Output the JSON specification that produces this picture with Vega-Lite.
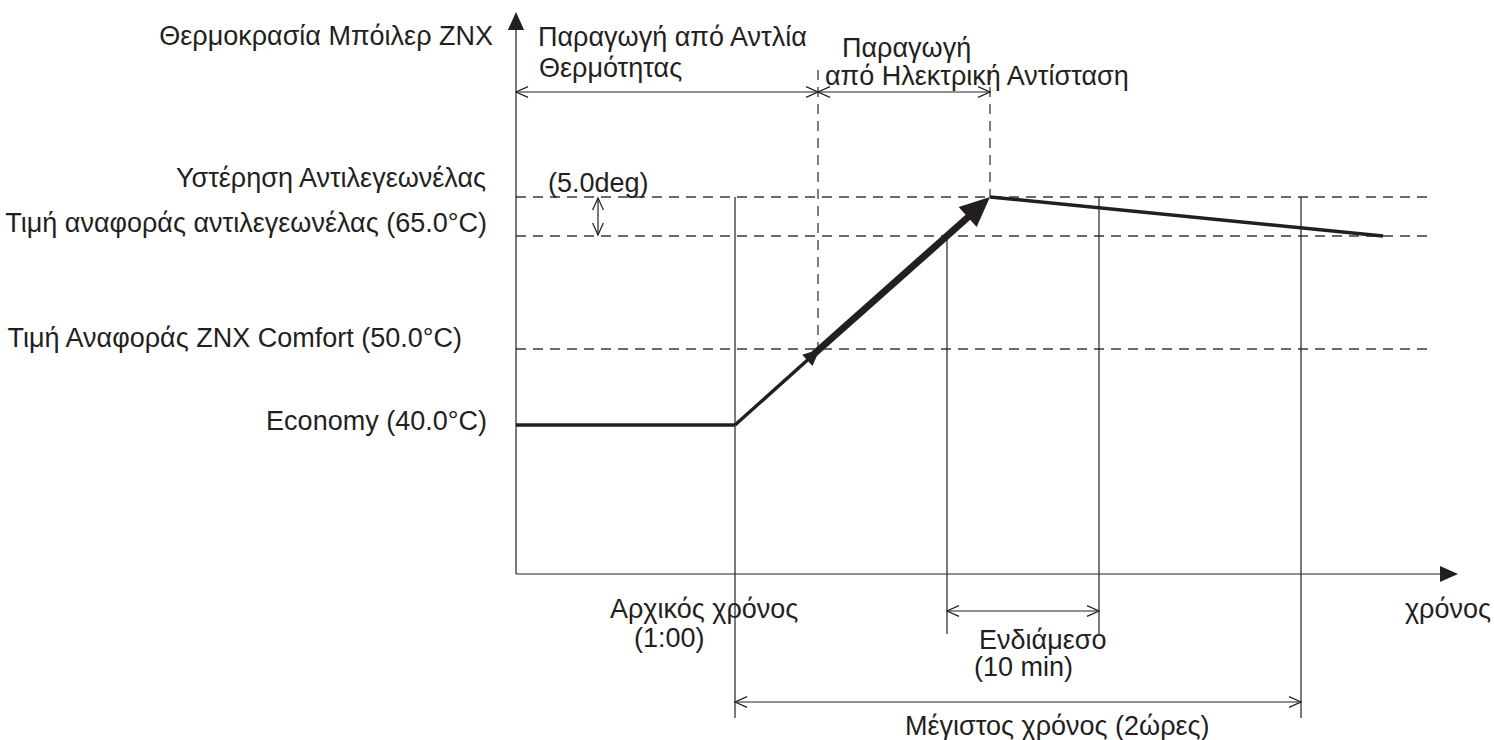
{
  "$schema": "https://vega.github.io/schema/vega-lite/v6.json",
  "width": 1494,
  "height": 740,
  "padding": 0,
  "autosize": {"type": "none"},
  "background": "white",
  "config": {"view": {"stroke": null}},
  "datasets": {
    "guides": [
      {"x": 516, "y": 197, "x2": 1430, "y2": 197},
      {"x": 516, "y": 236, "x2": 1430, "y2": 236},
      {"x": 516, "y": 349, "x2": 1430, "y2": 349},
      {"x": 818, "y": 70, "x2": 818, "y2": 349},
      {"x": 990, "y": 70, "x2": 990, "y2": 197}
    ],
    "thin": [
      {"x": 516, "y": 22, "x2": 516, "y2": 574},
      {"x": 516, "y": 574, "x2": 1445, "y2": 574},
      {"x": 735, "y": 197, "x2": 735, "y2": 718},
      {"x": 947, "y": 236, "x2": 947, "y2": 634},
      {"x": 1099, "y": 197, "x2": 1099, "y2": 634},
      {"x": 1301, "y": 197, "x2": 1301, "y2": 718},
      {"x": 516, "y": 92, "x2": 990, "y2": 92},
      {"x": 598, "y": 198, "x2": 598, "y2": 235},
      {"x": 947, "y": 611, "x2": 1099, "y2": 611},
      {"x": 735, "y": 702, "x2": 1301, "y2": 702}
    ],
    "profile": [
      {"x": 516, "y": 425, "x2": 735, "y2": 425},
      {"x": 735, "y": 425, "x2": 812, "y2": 356},
      {"x": 990, "y": 197, "x2": 1383, "y2": 236}
    ],
    "boost": [
      {"x": 814, "y": 354, "x2": 975, "y2": 211}
    ],
    "ticks": [
      {"x": 516, "y": 92, "dir": "left"},
      {"x": 818, "y": 92, "dir": "right"},
      {"x": 818, "y": 92, "dir": "left"},
      {"x": 990, "y": 92, "dir": "right"},
      {"x": 598, "y": 198, "dir": "up"},
      {"x": 598, "y": 235, "dir": "down"},
      {"x": 947, "y": 611, "dir": "left"},
      {"x": 1099, "y": 611, "dir": "right"},
      {"x": 735, "y": 702, "dir": "left"},
      {"x": 1301, "y": 702, "dir": "right"}
    ],
    "axisHeads": [
      {"x": 516, "y": 12, "dir": "up"},
      {"x": 1458, "y": 574, "dir": "right"}
    ],
    "rampHeads": [
      {"x": 820, "y": 349, "phase": "heat pump"},
      {"x": 990, "y": 197, "phase": "electric"}
    ],
    "labelsRight": [
      {"x": 493, "y": 45, "text": "Θερμοκρασία Μπόιλερ ZNX"},
      {"x": 486, "y": 187, "text": "Υστέρηση Αντιλεγεωνέλας"},
      {"x": 487, "y": 232, "text": "Τιμή αναφοράς αντιλεγεωνέλας (65.0°C)"},
      {"x": 462, "y": 347, "text": "Τιμή Αναφοράς ZNX Comfort (50.0°C)"},
      {"x": 487, "y": 430, "text": "Economy (40.0°C)"},
      {"x": 1491, "y": 618, "text": "χρόνος"}
    ],
    "labelsLeft": [
      {"x": 538, "y": 46, "text": "Παραγωγή από Αντλία"},
      {"x": 539, "y": 77, "text": "Θερμότητας"},
      {"x": 842, "y": 57, "text": "Παραγωγή"},
      {"x": 825, "y": 85, "text": "από Ηλεκτρική Αντίσταση"},
      {"x": 548, "y": 192, "text": "(5.0deg)"},
      {"x": 610, "y": 618, "text": "Αρχικός χρόνος"},
      {"x": 634, "y": 647, "text": "(1:00)"},
      {"x": 979, "y": 649, "text": "Ενδιάμεσο"},
      {"x": 974, "y": 676, "text": "(10 min)"},
      {"x": 905, "y": 735, "text": "Μέγιστος χρόνος (2ώρες)"}
    ]
  },
  "layer": [
    {
      "data": {"name": "guides"},
      "mark": {"type": "rule", "stroke": "#3a3a3a", "strokeWidth": 1.3, "strokeDash": [10, 7]},
      "encoding": {
        "x": {"field": "x", "type": "quantitative", "scale": {"domain": [0, 1494], "nice": false, "zero": false}, "axis": null},
        "y": {"field": "y", "type": "quantitative", "scale": {"domain": [0, 740], "nice": false, "zero": false, "reverse": true}, "axis": null},
        "x2": {"field": "x2"},
        "y2": {"field": "y2"}
      }
    },
    {
      "data": {"name": "thin"},
      "mark": {"type": "rule", "stroke": "#231f20", "strokeWidth": 1.2},
      "encoding": {
        "x": {"field": "x", "type": "quantitative", "axis": null},
        "y": {"field": "y", "type": "quantitative", "axis": null},
        "x2": {"field": "x2"},
        "y2": {"field": "y2"}
      }
    },
    {
      "data": {"name": "profile"},
      "mark": {"type": "rule", "stroke": "#231f20", "strokeWidth": 3.5},
      "encoding": {
        "x": {"field": "x", "type": "quantitative", "axis": null},
        "y": {"field": "y", "type": "quantitative", "axis": null},
        "x2": {"field": "x2"},
        "y2": {"field": "y2"}
      }
    },
    {
      "data": {"name": "boost"},
      "mark": {"type": "rule", "stroke": "#231f20", "strokeWidth": 7},
      "encoding": {
        "x": {"field": "x", "type": "quantitative", "axis": null},
        "y": {"field": "y", "type": "quantitative", "axis": null},
        "x2": {"field": "x2"},
        "y2": {"field": "y2"}
      }
    },
    {
      "data": {"name": "ticks"},
      "mark": {"type": "point", "filled": false, "stroke": "#231f20", "strokeWidth": 1.2, "size": 576, "opacity": 1},
      "encoding": {
        "x": {"field": "x", "type": "quantitative", "axis": null},
        "y": {"field": "y", "type": "quantitative", "axis": null},
        "shape": {
          "field": "dir", "type": "nominal", "legend": null,
          "scale": {
            "domain": ["left", "right", "up", "down"],
            "range": ["M1,-0.45L0,0L1,0.45", "M-1,-0.45L0,0L-1,0.45", "M-0.45,1L0,0L0.45,1", "M-0.45,-1L0,0L0.45,-1"]
          }
        }
      }
    },
    {
      "data": {"name": "axisHeads"},
      "mark": {"type": "point", "filled": true, "fill": "#231f20", "strokeWidth": 0, "size": 1296, "opacity": 1},
      "encoding": {
        "x": {"field": "x", "type": "quantitative", "axis": null},
        "y": {"field": "y", "type": "quantitative", "axis": null},
        "shape": {
          "field": "dir", "type": "nominal", "legend": null,
          "scale": {
            "domain": ["up", "right"],
            "range": ["M0,0L-0.3,1L0.3,1Z", "M0,0L-1,-0.38L-1,0.38Z"]
          }
        }
      }
    },
    {
      "data": {"name": "rampHeads"},
      "mark": {"type": "point", "filled": true, "fill": "#231f20", "strokeWidth": 0, "opacity": 1, "shape": "M0,0L-0.445,1.002L-1.045,0.332Z"},
      "encoding": {
        "x": {"field": "x", "type": "quantitative", "axis": null},
        "y": {"field": "y", "type": "quantitative", "axis": null},
        "size": {
          "field": "phase", "type": "nominal", "legend": null,
          "scale": {"domain": ["heat pump", "electric"], "range": [1156, 3600]}
        }
      }
    },
    {
      "data": {"name": "labelsRight"},
      "mark": {"type": "text", "align": "right", "baseline": "alphabetic", "font": "Liberation Sans", "fontSize": 27, "fill": "#231f20"},
      "encoding": {
        "x": {"field": "x", "type": "quantitative", "axis": null},
        "y": {"field": "y", "type": "quantitative", "axis": null},
        "text": {"field": "text"}
      }
    },
    {
      "data": {"name": "labelsLeft"},
      "mark": {"type": "text", "align": "left", "baseline": "alphabetic", "font": "Liberation Sans", "fontSize": 27, "fill": "#231f20"},
      "encoding": {
        "x": {"field": "x", "type": "quantitative", "axis": null},
        "y": {"field": "y", "type": "quantitative", "axis": null},
        "text": {"field": "text"}
      }
    }
  ]
}
